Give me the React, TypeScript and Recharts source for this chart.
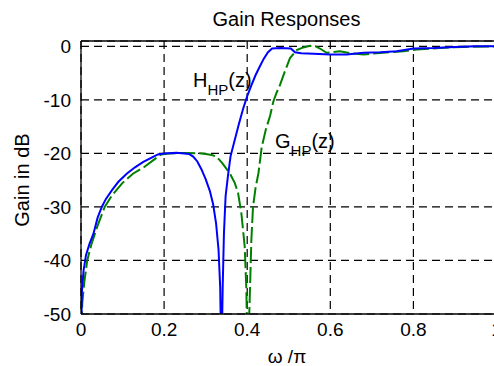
import React from "react";
import { LineChart, Line, XAxis, YAxis, CartesianGrid, ReferenceLine, Customized } from "recharts";

// axis ticks
const freqTicks = [0, 0.2, 0.4, 0.6, 0.8, 1];
const gainTicks = [0, -10, -20, -30, -40, -50];

// H_HP(z) gain, dB
const hW = [0, 0.002, 0.006, 0.012, 0.02, 0.03, 0.04, 0.05, 0.06, 0.075, 0.09, 0.11, 0.13, 0.15, 0.17, 0.185, 0.2, 0.23, 0.26, 0.27, 0.28, 0.29, 0.3, 0.31, 0.318, 0.325, 0.331, 0.335, 0.338, 0.341, 0.344, 0.348, 0.354, 0.36, 0.37, 0.38, 0.39, 0.4, 0.41, 0.42, 0.43, 0.44, 0.45, 0.46, 0.48, 0.505, 0.515, 0.53, 0.56, 0.6, 0.64, 0.68, 0.72, 0.76, 0.8, 0.85, 0.9, 0.95, 1];
const hDb = [-60, -46, -42, -39, -37, -35, -32, -30, -28.5, -26.8, -25.3, -23.8, -22.6, -21.6, -20.8, -20.2, -20, -19.9, -20.1, -20.6, -21.5, -23, -24.8, -27, -29.5, -33, -38, -45, -60, -45, -35, -28, -24, -20.5, -17.5, -14.5, -11.7, -9.3, -7.3, -5.4, -3.8, -2.3, -1.1, -0.4, -0.3, -0.4, -1.1, -1.3, -1.4, -1.5, -1.5, -1.2, -1.1, -0.9, -0.4, -0.3, -0.1, 0, 0];

// G_HP(z) gain, dB
const gW = [0, 0.003, 0.008, 0.015, 0.025, 0.04, 0.057, 0.075, 0.1, 0.125, 0.153, 0.175, 0.193, 0.21, 0.25, 0.29, 0.3, 0.315, 0.326, 0.34, 0.358, 0.37, 0.378, 0.386, 0.394, 0.398, 0.401, 0.406, 0.41, 0.414, 0.42, 0.427, 0.435, 0.445, 0.455, 0.463, 0.47, 0.479, 0.49, 0.503, 0.519, 0.535, 0.551, 0.565, 0.575, 0.591, 0.623, 0.65, 0.68, 0.727, 0.776, 0.808, 0.864, 0.92, 1];
const gDb = [-60, -48, -44, -40, -37, -33.5, -30, -27.8, -25.5, -23.8, -22.5, -21.2, -20.2, -20, -19.9, -20, -20.1, -20.3, -20.6, -21.8, -23.7, -25.5, -27.4, -31.2, -37.4, -45.5, -60, -47.4, -36.2, -30, -26.5, -23.7, -18.8, -15.5, -13, -10.3, -8.8, -7.2, -4.8, -2.2, -0.7, -0.2, 0.1, 0, -0.4, -1.2, -0.9, -1.3, -1.5, -1.2, -0.9, -0.6, -0.3, -0.1, 0];

const hData = hW.map((w, i) => ({ w, h: hDb[i] }));
const gData = gW.map((w, i) => ({ w, g: gDb[i] }));

const font = "'Liberation Sans', Arial, Helvetica, sans-serif";
const tickStyle = { fontSize: 19, fill: "#000", fontFamily: font };

const Annotations = () => (
  <g fontFamily={font} fill="#000">
    <text x={286.5} y={26} fontSize={20} textAnchor="middle">Gain Responses</text>
    <text x={287} y={363} fontSize={19} textAnchor="middle">ω /π</text>
    <text transform="translate(29,180) rotate(-90)" fontSize={20} textAnchor="middle">Gain in dB</text>
    <text x={193} y={87} fontSize={20}>
      H<tspan fontSize={15} dy={8}>HP</tspan><tspan dy={-8}>(z)</tspan>
    </text>
    <text x={275} y={148} fontSize={20}>
      G<tspan fontSize={15} dy={8}>HP</tspan><tspan dy={-8}>(z)</tspan>
    </text>
  </g>
);

const App: React.FC = () => {
  return (
    <div style={{ position: "fixed", left: 0, top: 0, width: 494, height: 366, overflow: "hidden", background: "#fff" }}>
      <LineChart width={520} height={366} margin={{ top: 41, right: 23.5, bottom: 0, left: 0 }}>
        <CartesianGrid stroke="#000" strokeDasharray="8 5" strokeWidth={1.2} />
        <XAxis
          dataKey="w"
          type="number"
          domain={[0, 1]}
          ticks={freqTicks}
          height={52}
          tick={tickStyle}
          tickLine={false}
          tickSize={0}
          tickMargin={9}
          axisLine={{ stroke: "#000", strokeWidth: 1.3 }}
          allowDataOverflow
        />
        <YAxis
          type="number"
          domain={[-50, 1]}
          ticks={gainTicks}
          width={81}
          tick={tickStyle}
          tickLine={false}
          tickSize={0}
          tickMargin={10}
          axisLine={{ stroke: "#000", strokeWidth: 1.3 }}
          allowDataOverflow
        />
        <ReferenceLine y={1} stroke="#000" strokeWidth={1.3} />
        <ReferenceLine x={1} stroke="#000" strokeWidth={1.3} />
        <Line data={gData} dataKey="g" type="linear" stroke="#008000" strokeWidth={2} strokeDasharray="16 4" dot={false} isAnimationActive={false} />
        <Line data={hData} dataKey="h" type="linear" stroke="#0000ff" strokeWidth={2} dot={false} isAnimationActive={false} />
        <Customized component={Annotations} />
      </LineChart>
    </div>
  );
};

export default App;
